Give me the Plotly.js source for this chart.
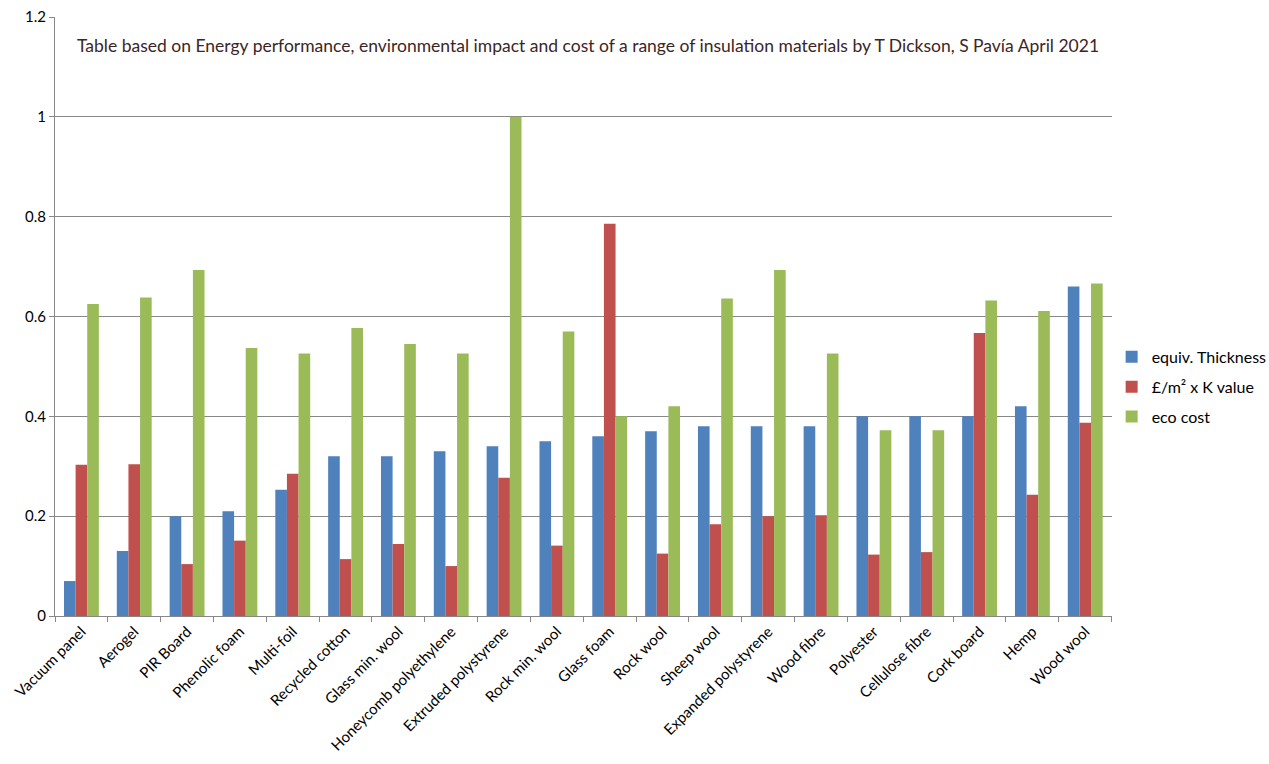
<!DOCTYPE html>
<html>
<head>
<meta charset="utf-8">
<script src="https://cdn.plot.ly/plotly-3.0.1.min.js"></script>
<style>
  html, body { margin: 0; padding: 0; background: #fff; }
  #chart { width: 1269px; height: 764px; }
</style>
</head>
<body>
<div id="chart"></div>
<script>
// materials, in the order shown on the chart
var materials = ["Vacuum panel", "Aerogel", "PIR Board", "Phenolic foam", "Multi-foil",
  "Recycled cotton", "Glass min. wool", "Honeycomb polyethylene", "Extruded polystyrene",
  "Rock min. wool", "Glass foam", "Rock wool", "Sheep wool", "Expanded polystyrene",
  "Wood fibre", "Polyester", "Cellulose fibre", "Cork board", "Hemp", "Wood wool"];

var thickness = [0.07, 0.13, 0.20, 0.21, 0.253, 0.32, 0.32, 0.33, 0.34, 0.35,
  0.36, 0.37, 0.38, 0.38, 0.38, 0.40, 0.40, 0.40, 0.42, 0.66];

var costK = [0.303, 0.304, 0.104, 0.151, 0.285, 0.114, 0.144, 0.100, 0.277, 0.141,
  0.786, 0.125, 0.184, 0.200, 0.202, 0.123, 0.128, 0.567, 0.243, 0.387];

var ecoCost = [0.625, 0.638, 0.693, 0.537, 0.526, 0.577, 0.545, 0.526, 1.0, 0.570,
  0.40, 0.42, 0.636, 0.693, 0.526, 0.372, 0.372, 0.632, 0.611, 0.666];

var yTicks = [0, 0.2, 0.4, 0.6, 0.8, 1, 1.2];

var chartTitle = "Table based on Energy performance, environmental impact and cost of a range of insulation materials by T Dickson, S Pavía April 2021";

function barTrace(name, values, color) {
  return {
    type: "bar",
    name: name,
    x: materials,
    y: values,
    legendgroup: name,
    marker: { color: color, line: { width: 0 } },
    hoverinfo: "none"
  };
}

var data = [
  barTrace("equiv. Thickness", thickness, "#4F81BD"),
  barTrace("£/m² x K value", costK, "#C0504D"),
  barTrace("eco cost", ecoCost, "#9BBB59")
];

var layout = {
  width: 1269,
  height: 764,
  margin: { l: 55, r: 151, t: 17, b: 148 },
  paper_bgcolor: "#fff",
  plot_bgcolor: "#fff",
  font: { family: "Lato, 'Open Sans', sans-serif", size: 15, color: "#000" },
  barmode: "group",
  bargap: 0.34,
  bargroupgap: 0,
  showlegend: true,
  legend: {
    xref: "container", yref: "container",
    x: 0.876, xanchor: "left",
    y: 0.4935, yanchor: "middle",
    font: { size: 16, color: "#000" },
    tracegroupgap: 6,
    traceorder: "grouped",
    itemwidth: 30
  },
  xaxis: {
    type: "category",
    tickangle: -45,
    ticks: "outside",
    tickson: "boundaries",
    ticklen: 5,
    tickcolor: "#888",
    showline: true,
    linecolor: "#888",
    showgrid: false,
    tickfont: { size: 15 },
    fixedrange: true
  },
  yaxis: {
    range: [0, 1.2],
    tickvals: yTicks,
    ticks: "outside",
    ticklen: 5,
    tickcolor: "#888",
    showline: true,
    linecolor: "#888",
    showgrid: true,
    gridcolor: "#888",
    gridwidth: 1,
    zeroline: false,
    tickfont: { size: 15 },
    fixedrange: true
  },
  annotations: [{
    text: chartTitle,
    xref: "paper", yref: "paper",
    x: 0.019, y: 0.953,
    xanchor: "left", yanchor: "middle",
    showarrow: false,
    font: { family: "Lato, sans-serif", size: 17.5, color: "#3b2626" }
  }]
};

Plotly.newPlot("chart", data, layout, { displayModeBar: false, staticPlot: true });
</script>
</body>
</html>
